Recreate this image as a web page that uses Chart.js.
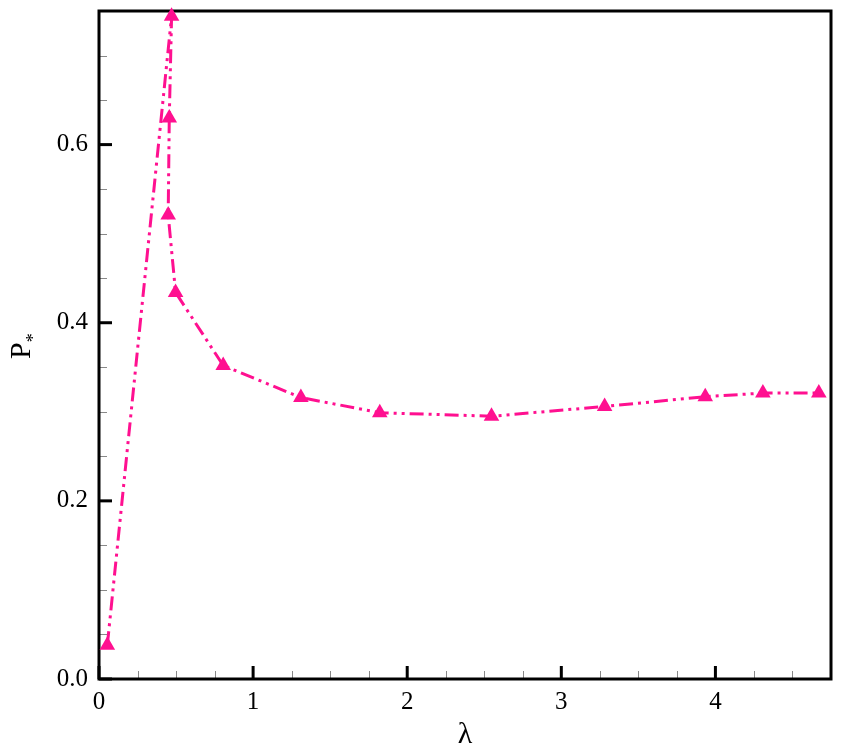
<!DOCTYPE html>
<html>
<head>
    <title>P* vs lambda</title>
    <script src="https://cdn.jsdelivr.net/npm/chart.js"></script>
    <style>
        body {
            margin: 0;
            background: #fff;
        }

        .chart-container {
            width: 841px;
            height: 753px;
        }
    </style>
</head>
<body>
    <div class="chart-container">
        <canvas id="p-chart"></canvas>
    </div>

    <script>
        // values, in line order
        const lambda = [0.054, 0.471, 0.456, 0.449, 0.497, 0.806, 1.31, 1.822, 2.547, 3.281, 3.934, 4.308, 4.671];
        const pStar = [0.038, 0.744, 0.630, 0.521, 0.434, 0.352, 0.316, 0.299, 0.295, 0.306, 0.317, 0.321, 0.321];

        const xTicks = [0, 1, 2, 3, 4];
        const yTicks = [0, 0.2, 0.4, 0.6];
        const xMinor = [0.25, 0.5, 0.75, 1.25, 1.5, 1.75, 2.25, 2.5, 2.75, 3.25, 3.5, 3.75, 4.25, 4.5];
        const yMinor = [0.05, 0.1, 0.15, 0.25, 0.3, 0.35, 0.45, 0.5, 0.55, 0.65, 0.7];

        const pink = '#ff1090';
        const serif = "'Liberation Serif', 'DejaVu Serif', serif";

        // frame, inward ticks and the y title
        const framePlugin = {
            id: 'frame',
            beforeDatasetsDraw(chart) {
                const ctx = chart.ctx;
                const a = chart.chartArea;
                const x = chart.scales.x;
                const y = chart.scales.y;
                ctx.save();

                ctx.strokeStyle = '#888';
                ctx.lineWidth = 1;
                xMinor.forEach(v => {
                    const px = Math.round(x.getPixelForValue(v)) + 0.5;
                    ctx.beginPath();
                    ctx.moveTo(px, a.bottom);
                    ctx.lineTo(px, a.bottom - 8);
                    ctx.stroke();
                });
                yMinor.forEach(v => {
                    const py = Math.round(y.getPixelForValue(v)) + 0.5;
                    ctx.beginPath();
                    ctx.moveTo(a.left, py);
                    ctx.lineTo(a.left + 8, py);
                    ctx.stroke();
                });

                ctx.strokeStyle = '#000';
                ctx.lineWidth = 3;
                xTicks.forEach(v => {
                    const px = x.getPixelForValue(v);
                    ctx.beginPath();
                    ctx.moveTo(px, a.bottom);
                    ctx.lineTo(px, a.bottom - 13);
                    ctx.stroke();
                });
                yTicks.forEach(v => {
                    const py = y.getPixelForValue(v);
                    ctx.beginPath();
                    ctx.moveTo(a.left, py);
                    ctx.lineTo(a.left + 13, py);
                    ctx.stroke();
                });

                ctx.lineWidth = 3;
                ctx.strokeRect(a.left, a.top, a.right - a.left, a.bottom - a.top);

                // y axis title: P with subscript *
                ctx.translate(30, 359);
                ctx.rotate(-Math.PI / 2);
                ctx.fillStyle = '#000';
                ctx.textAlign = 'left';
                ctx.textBaseline = 'alphabetic';
                ctx.font = '30px ' + serif;
                ctx.fillText('P', 0, 0);
                const w = ctx.measureText('P').width;
                ctx.font = '18px ' + serif;
                ctx.fillText('*', w, 9);
                ctx.restore();
            }
        };

        const ctx = document.getElementById('p-chart').getContext('2d');
        const chart = new Chart(ctx, {
            type: 'scatter',
            data: {
                datasets: [
                    {
                        data: lambda.map((v, i) => ({ x: v, y: pStar[i] })),
                        showLine: true,
                        borderColor: pink,
                        backgroundColor: pink,
                        borderWidth: 3,
                        borderDash: [14, 5, 3, 5, 3, 5],
                        pointStyle: 'triangle',
                        pointRadius: 9,
                        pointBorderWidth: 0,
                        tension: 0,
                        clip: false
                    }
                ]
            },
            options: {
                responsive: true,
                maintainAspectRatio: false,
                animation: false,
                layout: {
                    padding: { top: 11, right: 10, left: 0, bottom: 0 }
                },
                plugins: {
                    legend: { display: false },
                    tooltip: { enabled: false }
                },
                scales: {
                    x: {
                        type: 'linear',
                        min: 0,
                        max: 4.75,
                        grid: { display: false, drawTicks: false },
                        border: { display: false },
                        afterBuildTicks: s => { s.ticks = xTicks.map(v => ({ value: v })); },
                        afterFit: s => { s.height = 74; s.paddingRight = 0; },
                        ticks: {
                            color: '#000',
                            padding: 8,
                            maxRotation: 0,
                            font: { family: serif, size: 25 },
                            callback: v => String(v)
                        },
                        title: {
                            display: true,
                            text: 'λ',
                            color: '#000',
                            padding: 0,
                            font: { family: serif, size: 30 }
                        }
                    },
                    y: {
                        type: 'linear',
                        min: 0,
                        max: 0.75,
                        grid: { display: false, drawTicks: false },
                        border: { display: false },
                        afterBuildTicks: s => { s.ticks = yTicks.map(v => ({ value: v })); },
                        afterFit: s => { s.width = 99; s.paddingTop = 0; s.paddingBottom = 0; },
                        ticks: {
                            color: '#000',
                            padding: 11,
                            font: { family: serif, size: 25 },
                            callback: v => v.toFixed(1)
                        }
                    }
                }
            },
            plugins: [framePlugin]
        });
    </script>
</body>
</html>
